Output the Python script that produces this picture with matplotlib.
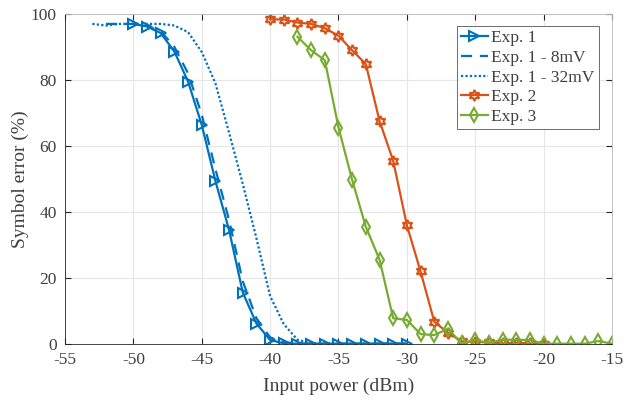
import matplotlib
matplotlib.use("Agg")
import matplotlib.pyplot as plt

plt.rcParams['font.family'] = ['Liberation Serif', 'DejaVu Serif']
plt.rcParams['axes.unicode_minus'] = False

# Exp. 1 (measured, plus two noise levels)
exp1_x = [-50, -49, -48, -47, -46, -45, -44, -43, -42, -41, -40, -39, -38, -37,
          -36, -35, -34, -33, -32, -31, -30]
exp1_y = [97, 96.2, 94.2, 88.6, 79.5, 66.4, 49.4, 34.5, 15.6, 6.2, 1.2, 0.2, 0.1, 0.1,
          0.1, 0.1, 0.1, 0.1, 0.1, 0.1, 0.1]

exp1_8mv_x = [-52, -51, -50, -49, -48, -47, -46, -45, -44, -43, -42, -41, -40,
              -39, -38, -37, -36, -35, -34, -33, -32, -31, -30]
exp1_8mv_y = [97, 97, 97, 96.3, 94.8, 90, 82, 69.5, 53, 37.5, 19, 7.8, 2,
              0.5, 0.2, 0.1, 0.1, 0.1, 0.1, 0.1, 0.1, 0.1, 0.1]

exp1_32mv_x = [-53, -52, -51, -50, -49, -48, -47, -46, -45, -44, -43, -42, -41,
               -40, -39, -38, -37, -36, -35, -34, -33, -32, -31, -30]
exp1_32mv_y = [97, 96.5, 97, 97, 97, 97, 96.5, 94.5, 88.5, 79, 64, 48.5, 32,
               14.5, 6, 1.3, 0.2, 0.1, 0.1, 0.1, 0.1, 0.1, 0.1, 0.1]

# Exp. 2
exp2_x = [-40, -39, -38, -37, -36, -35, -34, -33, -32, -31, -30, -29, -28, -27,
          -26, -25, -24, -23, -22, -21, -20]
exp2_y = [98.4, 98.3, 97.4, 97, 95.7, 93.4, 89, 84.8, 67.6, 55.5, 36, 22, 6.8, 3.4,
          0.8, 0.6, 0.5, 0.2, 0.4, 0.2, 0.1]

# Exp. 3
exp3_x = [-38, -37, -36, -35, -34, -33, -32, -31, -30, -29, -28, -27, -26, -25,
          -24, -23, -22, -21, -20, -19, -18, -17, -16, -15]
exp3_y = [93.1, 89, 86, 65.6, 49.7, 35.5, 25.6, 7.8, 7.3, 3, 2.7, 4.6, 0.2, 1.2,
          0.3, 1.3, 1.3, 1.2, 0.1, 0.1, 0.1, 0.1, 0.9, 0.1]

labels = ["Exp. 1", "Exp. 1 - 8mV", "Exp. 1 - 32mV", "Exp. 2", "Exp. 3"]
blue, orange, green = "#0072BD", "#D95319", "#77AC30"
text_color = "#404040"

fig = plt.figure(figsize=(6.33, 4.03), dpi=100)
ax = fig.add_axes([0.1027, 0.1464, 0.8641, 0.8189])

lw = 1.6
ax.plot(exp1_x, exp1_y, color=blue, lw=lw, marker=">", ms=7, mfc="none",
        mew=1.5, label=labels[0])
ax.plot(exp1_8mv_x, exp1_8mv_y, color=blue, lw=lw, ls=(0, (5, 3.5)), label=labels[1])
ax.plot(exp1_32mv_x, exp1_32mv_y, color=blue, lw=lw, ls=(0, (1, 1)), label=labels[2])
ax.plot(exp2_x, exp2_y, color=orange, lw=lw, marker=(6, 1, 0), ms=8, mfc="none",
        mew=1.5, label=labels[3])
ax.plot(exp3_x, exp3_y, color=green, lw=lw, marker="d", ms=7, mfc="none",
        mew=1.5, label=labels[4])

ax.set_xlim(-55, -15)
ax.set_ylim(0, 100)
ax.set_xticks(range(-55, -14, 5))
ax.set_yticks(range(0, 101, 20))
ax.grid(True, color="#e6e6e6", lw=0.8)
ax.set_axisbelow(True)
ax.tick_params(direction="in", top=True, right=True, length=4, color="#262626",
               labelsize=12.5, labelcolor=text_color, pad=6)
for s in ax.spines.values():
    s.set_color("#262626")
    s.set_linewidth(0.6)
ax.spines["top"].set_color("#bbbbbb")
ax.spines["right"].set_color("#bbbbbb")

ax.set_xlabel("Input power (dBm)", fontsize=14, color=text_color, labelpad=7)
ax.set_ylabel("Symbol error (%)", fontsize=14, color=text_color, labelpad=1)

leg = ax.legend(loc="upper right", bbox_to_anchor=(0.976, 0.964), fontsize=12.5,
                handlelength=1.55, handletextpad=0.2, borderpad=0.25,
                labelspacing=0.2, fancybox=False, framealpha=1,
                edgecolor="#555555", borderaxespad=0)
leg.get_frame().set_linewidth(0.6)
for t in leg.get_texts():
    t.set_color(text_color)

fig.savefig("out.png", dpi=100)
